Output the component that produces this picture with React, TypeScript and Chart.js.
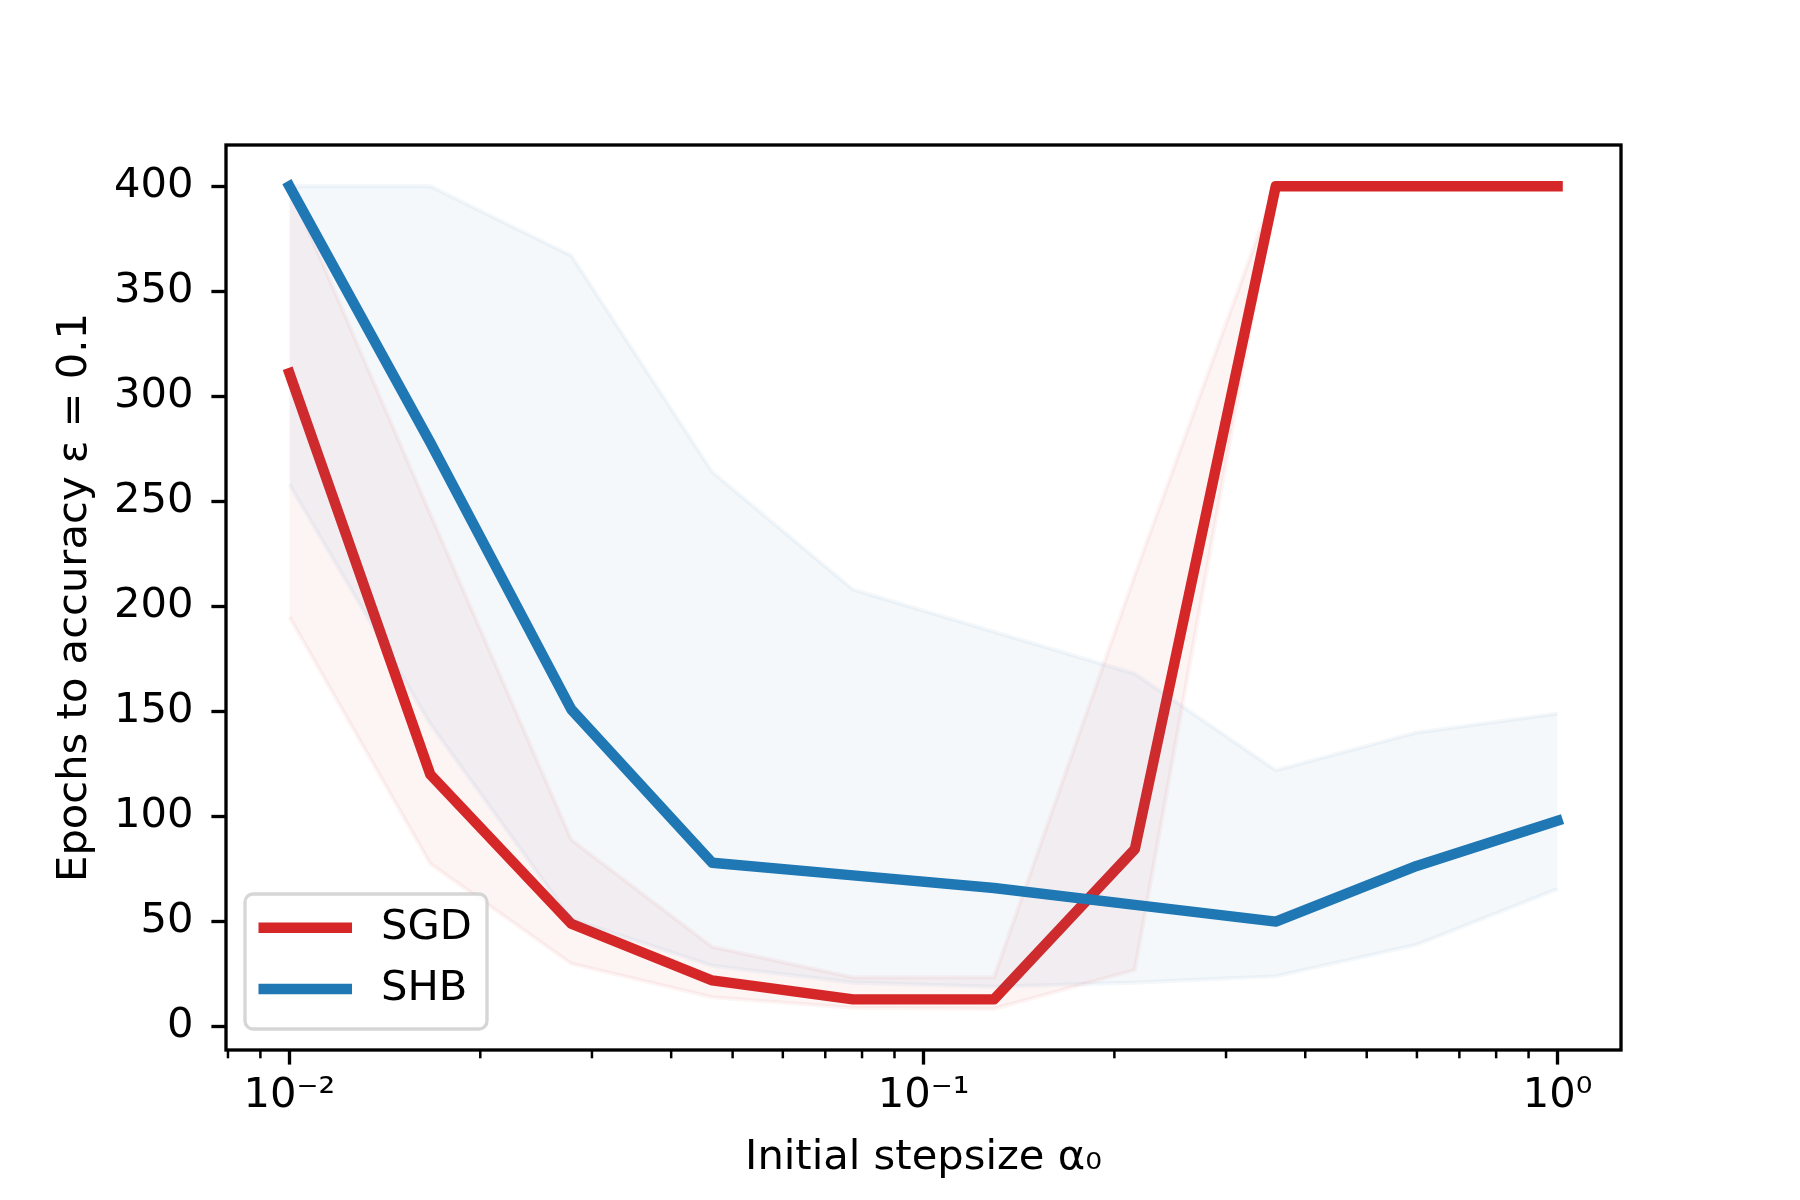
import React, { useEffect, useRef } from "react";
import { Chart, registerables, Plugin } from "chart.js";

Chart.register(...registerables);

// initial stepsizes (log-spaced, 10 values between 1e-2 and 1e0)
const stepsizes = [0.01, 0.01668, 0.02783, 0.04642, 0.07743, 0.12915, 0.21544, 0.35938, 0.59948, 1.0];

// SGD: mean epochs and min/max band
const sgdMean = [311, 120, 49, 22, 13, 13, 84.5, 400, 400, 400];
const sgdLower = [195, 77.5, 30, 14, 9, 8.5, 27, 400, 400, 400];
const sgdUpper = [400, 244, 89, 38, 23.5, 23.5, 215, 400, 400, 400];

// SHB: mean epochs and min/max band
const shbMean = [400, 278, 151, 78, 72, 66, 58, 50, 76.5, 98];
const shbLower = [258, 144, 51, 29, 21, 19, 21, 24, 39, 65.5];
const shbUpper = [400, 400, 367, 264, 208, 188, 168, 122, 140, 149];

// axis ticks
const xMajorTicks = [0.01, 0.1, 1];
const xTickLabels = ["10\u207B\u00B2", "10\u207B\u00B9", "10\u2070"];
const xMinorTicks = [
    0.008, 0.009,
    0.02, 0.03, 0.04, 0.05, 0.06, 0.07, 0.08, 0.09,
    0.2, 0.3, 0.4, 0.5, 0.6, 0.7, 0.8, 0.9
];
const yTicks = [0, 50, 100, 150, 200, 250, 300, 350, 400];

const RED = "#d62728";
const BLUE = "#1f77b4";
const RED_FADE = "rgba(214, 39, 40, 0.05)";
const BLUE_FADE = "rgba(31, 119, 180, 0.05)";

const FONT = "DejaVu Sans";
const FONT_SIZE = 41.67;

const toPoints = (ys: number[]) => stepsizes.map((x, i) => ({ x, y: ys[i] }));

// frame around the axes + minor ticks on the log axis
const framePlugin: Plugin<"line"> = {
    id: "frame",
    afterDatasetsDraw: (chart) => {
        const { ctx, chartArea } = chart;
        const xScale = chart.scales.x;
        ctx.save();
        ctx.strokeStyle = "#000";
        ctx.lineWidth = 2.5;
        xMinorTicks.forEach((v) => {
            const px = xScale.getPixelForValue(v);
            ctx.beginPath();
            ctx.moveTo(px, chartArea.bottom);
            ctx.lineTo(px, chartArea.bottom + 8.3);
            ctx.stroke();
        });
        ctx.lineWidth = 3.33;
        ctx.lineJoin = "miter";
        ctx.strokeRect(
            chartArea.left,
            chartArea.top,
            chartArea.right - chartArea.left,
            chartArea.bottom - chartArea.top
        );
        ctx.restore();
    }
};

// matplotlib-like legend box in the lower left corner
const boxLegendPlugin: Plugin<"line"> = {
    id: "boxLegend",
    afterDraw: (chart) => {
        const { ctx, chartArea } = chart;
        const items = chart.data.datasets.filter((d: any) => d.inLegend);
        const left = chartArea.left + 19;
        const width = 242;
        const rowGap = 61.3;
        const height = 135;
        const top = chartArea.bottom - 21 - height;
        const r = 8;

        ctx.save();
        ctx.beginPath();
        ctx.moveTo(left + r, top);
        ctx.lineTo(left + width - r, top);
        ctx.arcTo(left + width, top, left + width, top + r, r);
        ctx.lineTo(left + width, top + height - r);
        ctx.arcTo(left + width, top + height, left + width - r, top + height, r);
        ctx.lineTo(left + r, top + height);
        ctx.arcTo(left, top + height, left, top + height - r, r);
        ctx.lineTo(left, top + r);
        ctx.arcTo(left, top, left + r, top, r);
        ctx.closePath();
        ctx.fillStyle = "rgba(255, 255, 255, 0.8)";
        ctx.fill();
        ctx.strokeStyle = "rgba(204, 204, 204, 0.8)";
        ctx.lineWidth = 3.33;
        ctx.stroke();

        ctx.font = `${FONT_SIZE}px "${FONT}"`;
        ctx.textBaseline = "middle";
        ctx.textAlign = "left";
        items.forEach((d: any, i: number) => {
            const y = top + 33.7 + i * rowGap;
            ctx.beginPath();
            ctx.strokeStyle = d.borderColor;
            ctx.lineWidth = d.borderWidth;
            ctx.lineCap = "square";
            ctx.moveTo(left + 18.7, y);
            ctx.lineTo(left + 101.8, y);
            ctx.stroke();
            ctx.fillStyle = "#000";
            ctx.fillText(d.label, left + 136, y);
        });
        ctx.restore();
    }
};

const App: React.FC = () => {
    const canvasRef = useRef<HTMLCanvasElement | null>(null);
    const chartRef = useRef<Chart<"line"> | null>(null);

    useEffect(() => {
        if (!canvasRef.current) return;
        if (chartRef.current) chartRef.current.destroy();

        Chart.defaults.font.family = FONT;
        Chart.defaults.color = "#000";

        const band = (ys: number[], fade: string, order: number, fill: any) => ({
            label: "",
            data: toPoints(ys),
            borderColor: fade,
            backgroundColor: fade,
            borderWidth: 4.2,
            pointRadius: 0,
            tension: 0,
            fill,
            order
        });

        const meanLine = (label: string, ys: number[], color: string, order: number) => ({
            label,
            inLegend: true,
            data: toPoints(ys),
            borderColor: color,
            backgroundColor: color,
            borderWidth: 10.4,
            borderCapStyle: "square" as const,
            borderJoinStyle: "round" as const,
            pointRadius: 0,
            tension: 0,
            fill: false,
            order
        });

        const tickFont = { family: FONT, size: FONT_SIZE };
        const tickGrid = {
            display: true,
            drawOnChartArea: false,
            drawTicks: true,
            tickLength: 14.6,
            tickWidth: 3.33,
            tickColor: "#000"
        };

        chartRef.current = new Chart(canvasRef.current, {
            type: "line",
            data: {
                datasets: [
                    band(sgdLower, RED_FADE, 3, false),
                    band(sgdUpper, RED_FADE, 3, "-1"),
                    meanLine("SGD", sgdMean, RED, 2),
                    band(shbLower, BLUE_FADE, 1, false),
                    band(shbUpper, BLUE_FADE, 1, "-1"),
                    meanLine("SHB", shbMean, BLUE, 0)
                ] as any
            },
            options: {
                responsive: false,
                animation: false,
                devicePixelRatio: 1,
                events: [],
                layout: { padding: { top: 145, right: 179, bottom: 0, left: 0 } },
                plugins: {
                    legend: { display: false },
                    tooltip: { enabled: false }
                },
                scales: {
                    x: {
                        type: "logarithmic",
                        min: Math.pow(10, -2.1),
                        max: Math.pow(10, 0.1),
                        afterBuildTicks: (scale: any) => {
                            scale.ticks = xMajorTicks.map((value) => ({ value }));
                        },
                        afterFit: (scale: any) => {
                            scale.height = 150;
                        },
                        ticks: {
                            font: tickFont,
                            color: "#000",
                            padding: 7,
                            maxRotation: 0,
                            autoSkip: false,
                            callback: (_v: any, i: number) => xTickLabels[i]
                        },
                        grid: tickGrid,
                        border: { display: false },
                        title: {
                            display: true,
                            text: "Initial stepsize \u03B1\u2080",
                            font: tickFont,
                            color: "#000",
                            padding: { top: 0, bottom: 17 }
                        }
                    },
                    y: {
                        type: "linear",
                        min: -11.1,
                        max: 419.6,
                        afterBuildTicks: (scale: any) => {
                            scale.ticks = yTicks.map((value) => ({ value }));
                        },
                        afterFit: (scale: any) => {
                            scale.width = 226;
                        },
                        ticks: {
                            font: tickFont,
                            color: "#000",
                            padding: 18,
                            callback: (v: any) => String(v)
                        },
                        grid: tickGrid,
                        border: { display: false },
                        title: {
                            display: true,
                            text: "Epochs to accuracy \u03B5 = 0.1",
                            font: tickFont,
                            color: "#000",
                            padding: { top: 50, bottom: 0 }
                        }
                    }
                }
            } as any,
            plugins: [framePlugin, boxLegendPlugin]
        });

        return () => {
            chartRef.current?.destroy();
            chartRef.current = null;
        };
    }, []);

    return (
        <div style={{ position: "fixed", left: 0, top: 0, width: 1800, height: 1200, background: "#fff" }}>
            <canvas ref={canvasRef} width={1800} height={1200} style={{ display: "block" }}></canvas>
        </div>
    );
};

export default App;
